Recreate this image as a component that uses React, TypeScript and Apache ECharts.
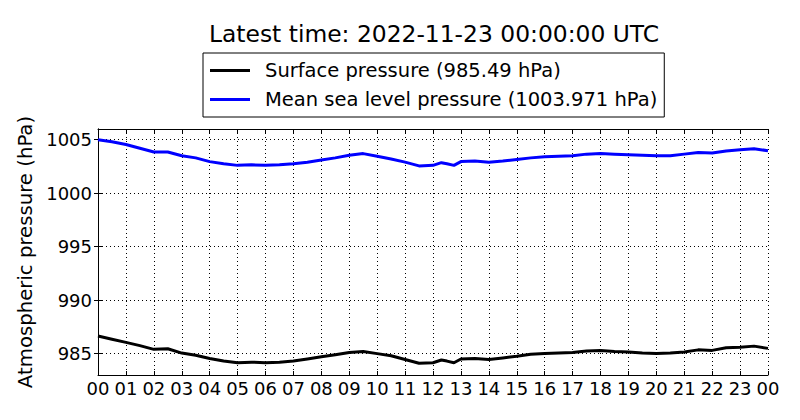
import { useEffect, useRef } from "react";
import * as echarts from "echarts";

// hours since 2022-11-22 00:00 UTC, half-hour steps
const hours = [
  0, 0.5, 1, 1.5, 2, 2.5, 3, 3.5, 4, 4.5, 5, 5.5, 6, 6.5, 7, 7.5, 8, 8.5, 9, 9.5,
  10, 10.5, 11, 11.5, 12, 12.3, 12.5, 12.75, 13, 13.5, 14, 14.5, 15, 15.5, 16, 16.5,
  17, 17.5, 18, 18.5, 19, 19.5, 20, 20.5, 21, 21.5, 22, 22.5, 23, 23.5, 24,
];

const mslp = [
  1005.0, 1004.8, 1004.55, 1004.2, 1003.85, 1003.85, 1003.5, 1003.3, 1002.95, 1002.75,
  1002.6, 1002.65, 1002.6, 1002.65, 1002.75, 1002.9, 1003.1, 1003.3, 1003.55, 1003.7,
  1003.45, 1003.2, 1002.9, 1002.55, 1002.6, 1002.85, 1002.75, 1002.6, 1002.95, 1003.0,
  1002.9, 1003.0, 1003.15, 1003.3, 1003.4, 1003.45, 1003.5, 1003.65, 1003.7, 1003.65,
  1003.6, 1003.55, 1003.5, 1003.5, 1003.65, 1003.8, 1003.75, 1003.95, 1004.05, 1004.15,
  1003.971,
];

const surface = [
  986.65, 986.35, 986.05, 985.75, 985.4, 985.45, 985.05, 984.85, 984.55, 984.3,
  984.15, 984.2, 984.15, 984.2, 984.3, 984.5, 984.7, 984.9, 985.1, 985.2,
  985.0, 984.8, 984.45, 984.1, 984.15, 984.4, 984.3, 984.15, 984.5, 984.55,
  984.45, 984.6, 984.75, 984.95, 985.0, 985.05, 985.1, 985.25, 985.3, 985.2,
  985.15, 985.05, 985.0, 985.05, 985.15, 985.35, 985.3, 985.55, 985.6, 985.7,
  985.49,
];

const hourLabels = [
  "00", "01", "02", "03", "04", "05", "06", "07", "08", "09", "10", "11", "12",
  "13", "14", "15", "16", "17", "18", "19", "20", "21", "22", "23", "00",
];

const pressureTicks = [985, 990, 995, 1000, 1005];

const FONT = "DejaVu Sans";

export default function App() {
  const ref = useRef<HTMLDivElement | null>(null);

  useEffect(() => {
    document.body.style.margin = "0";
    if (!ref.current) return;
    const chart = echarts.init(ref.current, null, { renderer: "svg" });

    const dotted = { show: true, lineStyle: { color: "#000", type: [1, 3], width: 1 } };
    const frame = { show: true, lineStyle: { color: "#000", width: 1 } };
    const tick = { show: true, inside: true, length: 4, lineStyle: { color: "#000" } };

    chart.setOption({
      animation: false,
      title: {
        text: "Latest time: 2022-11-23 00:00:00 UTC",
        left: 204,
        top: 17,
        textStyle: { fontFamily: FONT, fontSize: 23.4, fontWeight: "normal", color: "#000" },
      },
      legend: {
        orient: "vertical",
        left: 203,
        top: 53,
        padding: [5, 7, 5, 7],
        itemGap: 4,
        itemWidth: 40,
        itemHeight: 3,
        icon: "rect",
        borderColor: "#000",
        borderWidth: 1,
        borderRadius: 0,
        textStyle: { fontFamily: FONT, fontSize: 19.5, color: "#000", padding: [0, 0, 0, 10], lineHeight: 25 },
        data: ["Surface pressure (985.49 hPa)", "Mean sea level pressure (1003.971 hPa)"],
      },
      grid: { left: 98, right: 32, top: 129, bottom: 45 },
      xAxis: [
        {
          type: "value",
          min: 0,
          max: 24,
          interval: 1,
          axisLine: frame,
          axisTick: tick,
          splitLine: dotted,
          axisLabel: {
            fontFamily: FONT,
            fontSize: 18,
            color: "#000",
            margin: 4,
            formatter: (v: number) => hourLabels[Math.round(v)],
          },
        },
        {
          type: "value",
          position: "top",
          min: 0,
          max: 24,
          interval: 1,
          axisLine: frame,
          axisTick: tick,
          splitLine: { show: false },
          axisLabel: { show: false },
        },
      ],
      yAxis: [
        {
          type: "value",
          min: 983,
          max: 1006,
          interval: 5,
          axisLine: frame,
          axisTick: { ...tick, customValues: pressureTicks },
          splitLine: dotted,
          name: "Atmospheric pressure (hPa)",
          nameLocation: "middle",
          nameGap: 47,
          nameTextStyle: { fontFamily: FONT, fontSize: 19.7, color: "#000" },
          axisLabel: {
            fontFamily: FONT,
            fontSize: 18,
            color: "#000",
            margin: 6,
            customValues: pressureTicks,
            formatter: (v: number) => String(v),
          },
        },
        {
          type: "value",
          position: "right",
          min: 983,
          max: 1006,
          axisLine: frame,
          axisTick: { ...tick, customValues: pressureTicks },
          splitLine: { show: false },
          axisLabel: { show: false },
        },
      ],
      series: [
        {
          name: "Surface pressure (985.49 hPa)",
          type: "line",
          data: hours.map((h, i) => [h, surface[i]]),
          showSymbol: false,
          lineStyle: { color: "#000", width: 3 },
          itemStyle: { color: "#000" },
        },
        {
          name: "Mean sea level pressure (1003.971 hPa)",
          type: "line",
          data: hours.map((h, i) => [h, mslp[i]]),
          showSymbol: false,
          lineStyle: { color: "#0000ff", width: 3 },
          itemStyle: { color: "#0000ff" },
        },
      ],
    });

    return () => chart.dispose();
  }, []);

  return <div ref={ref} style={{ width: 800, height: 420 }} />;
}
